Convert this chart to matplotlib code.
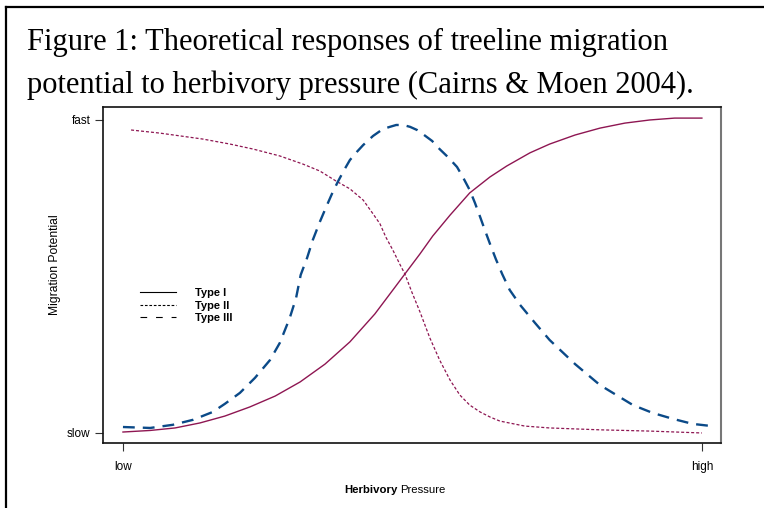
import matplotlib.pyplot as plt
from matplotlib.lines import Line2D

# curve values (x: 0 = low, 1 = high ; y: 0 = slow, 1 = fast)
type1_x = [0.000, 0.047, 0.090, 0.133, 0.176, 0.219, 0.263, 0.306, 0.349, 0.392, 0.435, 0.470, 0.487, 0.513,
           0.535, 0.565, 0.599, 0.634, 0.663, 0.703, 0.737, 0.781, 0.824, 0.867, 0.910, 0.953, 1.000]
type1_y = [0.003, 0.008, 0.016, 0.032, 0.054, 0.083, 0.118, 0.163, 0.220, 0.291, 0.380, 0.466, 0.508, 0.572,
           0.629, 0.696, 0.767, 0.818, 0.853, 0.895, 0.923, 0.952, 0.974, 0.990, 1.000, 1.006, 1.006]

type2_x = [0.014, 0.064, 0.138, 0.185, 0.225, 0.271, 0.311, 0.340, 0.368, 0.392, 0.415, 0.432, 0.444, 0.454,
           0.466, 0.478, 0.487, 0.499, 0.513, 0.530, 0.547, 0.565, 0.582, 0.599, 0.617, 0.634, 0.651, 0.694,
           0.737, 0.824, 0.910, 1.000]
type2_y = [0.968, 0.958, 0.939, 0.923, 0.907, 0.885, 0.859, 0.837, 0.805, 0.780, 0.744, 0.700, 0.668, 0.626,
           0.585, 0.540, 0.508, 0.450, 0.387, 0.304, 0.233, 0.169, 0.121, 0.089, 0.067, 0.051, 0.038, 0.022,
           0.016, 0.010, 0.006, 0.000]

type3_x = [0.000, 0.047, 0.086, 0.121, 0.155, 0.176, 0.202, 0.228, 0.254, 0.271, 0.288, 0.299, 0.307, 0.318,
           0.328, 0.340, 0.351, 0.361, 0.371, 0.382, 0.392, 0.404, 0.415, 0.432, 0.449, 0.461, 0.472, 0.484,
           0.496, 0.508, 0.518, 0.534, 0.547, 0.561, 0.577, 0.587, 0.599, 0.608, 0.617, 0.625, 0.634, 0.644,
           0.655, 0.668, 0.686, 0.712, 0.737, 0.781, 0.824, 0.881, 0.915, 0.950, 0.984, 1.017]
type3_y = [0.019, 0.016, 0.026, 0.042, 0.067, 0.093, 0.128, 0.176, 0.233, 0.288, 0.367, 0.431, 0.505, 0.559,
           0.617, 0.674, 0.722, 0.764, 0.802, 0.840, 0.872, 0.898, 0.920, 0.949, 0.971, 0.978, 0.984, 0.984,
           0.978, 0.968, 0.955, 0.933, 0.907, 0.882, 0.850, 0.818, 0.776, 0.735, 0.690, 0.649, 0.604, 0.556,
           0.508, 0.457, 0.409, 0.351, 0.297, 0.220, 0.153, 0.089, 0.064, 0.045, 0.029, 0.022]

series_labels = ['Type I', 'Type II', 'Type III']
x_ticklabels = ['low', 'high']
y_ticklabels = ['slow', 'fast']

maroon = '#8e1652'
blue = '#0b4a88'

fig = plt.figure(figsize=(7.64, 5.08), dpi=100)
ax = fig.add_axes([0.1348, 0.128, 0.8089, 0.6614])

ax.plot(type1_x, type1_y, color=maroon, lw=1.0)
ax.plot(type2_x, type2_y, color=maroon, lw=0.9, dashes=(2.4, 1.6))
ax.plot(type3_x, type3_y, color=blue, lw=1.7, dashes=(5.0, 3.4))

ax.set_xlim(-0.0345, 1.033)
ax.set_ylim(-0.032, 1.0415)

ax.set_xticks([0, 1])
ax.set_xticklabels(x_ticklabels)
ax.set_yticks([0, 1])
ax.set_yticklabels(y_ticklabels)
ax.tick_params(axis='both', direction='out', length=6, width=0.8, labelsize=8.5, color='#333333')
ax.tick_params(axis='x', pad=7)
ax.tick_params(axis='y', pad=3)
for lab in ax.get_xticklabels() + ax.get_yticklabels():
    lab.set_family('Liberation Sans')

for s in ['top', 'left', 'bottom']:
    ax.spines[s].set_color('#111111')
    ax.spines[s].set_linewidth(1.2)
ax.spines['right'].set_color('#777777')
ax.spines['right'].set_linewidth(1.5)

# legend with black sample lines
handles = [Line2D([], [], color='black', lw=0.8),
           Line2D([], [], color='black', lw=0.8, dashes=(2.4, 1.6)),
           Line2D([], [], color='black', lw=0.8, dashes=(6, 8))]
leg = ax.legend(handles, series_labels, loc='upper left', bbox_to_anchor=(0.043, 0.49),
                frameon=False, handlelength=3.3, handletextpad=1.7, labelspacing=0.22,
                prop={'family': 'Liberation Sans', 'weight': 'bold', 'size': 8})

# axis labels
fig.text(0.072, 0.478, 'Migration Potential', rotation=90, ha='center', va='center',
         fontsize=8.7, family='Liberation Sans')
fig.text(0.521, 0.035, 'Herbivory', ha='right', va='center', fontsize=8.2,
         family='Liberation Sans', weight='bold')
fig.text(0.524, 0.035, 'Pressure', ha='left', va='center', fontsize=8.2,
         family='Liberation Sans')

# title
fig.text(0.035, 0.917, 'Figure 1: Theoretical responses of treeline migration',
         ha='left', va='center', fontsize=22, family='Liberation Serif')
fig.text(0.035, 0.833, 'potential to herbivory pressure (Cairns & Moen 2004).',
         ha='left', va='center', fontsize=22, family='Liberation Serif')

# outer frame (top and left edges)
fig.add_artist(Line2D([0.0079, 1.0], [0.986, 0.986], transform=fig.transFigure, color='black', lw=1.6))
fig.add_artist(Line2D([0.0079, 0.0079], [0.0, 0.986], transform=fig.transFigure, color='black', lw=1.6))

fig.savefig('out.png', dpi=100)
